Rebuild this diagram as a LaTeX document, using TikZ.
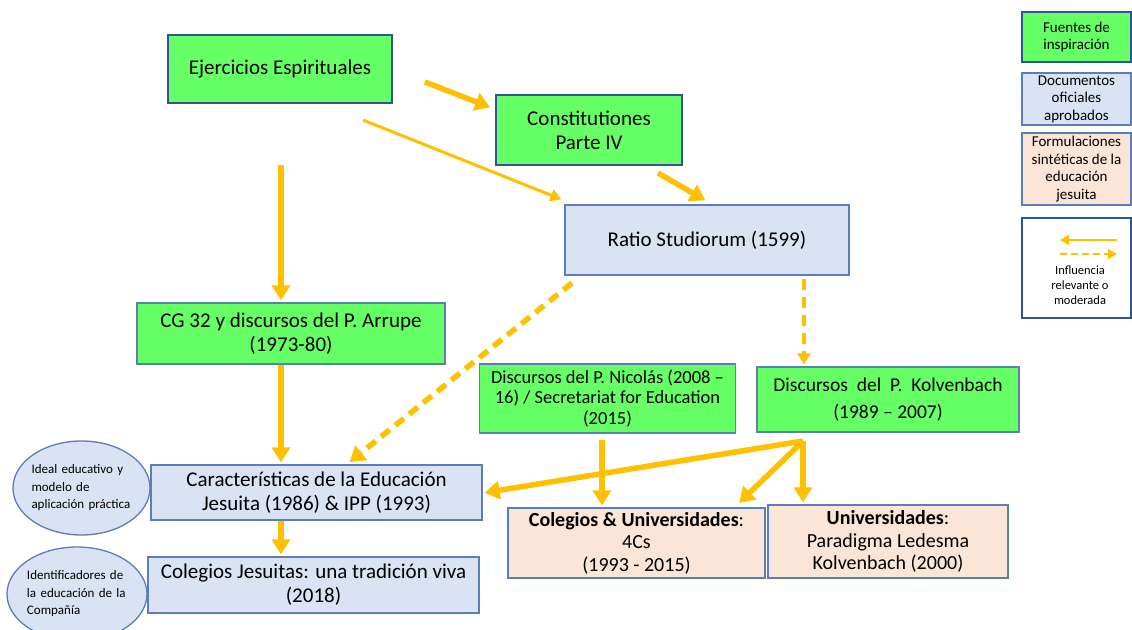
\documentclass[tikz,border=0pt]{standalone}
\usepackage{fontspec}
\setmainfont{Carlito}
\usepackage{tikz}
\usetikzlibrary{shapes.geometric, arrows.meta}
\definecolor{fuentegreen}{HTML}{66FF66}
\definecolor{oficialblue}{HTML}{DAE3F3}
\definecolor{sintesispeach}{HTML}{FBE5D6}
\definecolor{borderdark}{HTML}{2F5597}
\definecolor{borderblue}{HTML}{5B7DB8}
\definecolor{arrowgold}{HTML}{FFC000}
\tikzstyle{fuente} = [rectangle, inner sep=0pt, align=center, draw=borderblue, line width=1.3pt, fill=fuentegreen, font=\fontsize{21}{24}\selectfont]
\tikzstyle{fuentetop} = [fuente, draw=borderdark, line width=2pt]
\tikzstyle{oficial} = [rectangle, inner sep=0pt, align=center, draw=borderblue, line width=1.3pt, fill=oficialblue, font=\fontsize{21}{24}\selectfont]
\tikzstyle{sintesis} = [rectangle, inner sep=0pt, align=center, draw=borderblue, line width=1.3pt, fill=sintesispeach, font=\fontsize{20}{22.5}\selectfont]
\tikzstyle{nivel} = [ellipse, inner xsep=-8pt, inner ysep=0pt, draw=borderblue, line width=1.3pt, fill=oficialblue, text width=100pt, align=left, font=\fontsize{13}{17.5}\selectfont]
\tikzstyle{leyenda} = [rectangle, inner sep=0pt, align=center, draw=borderblue, line width=1.3pt, minimum width=109pt, font=\fontsize{15}{17.5}\selectfont]
\tikzstyle{arrow} = [draw=arrowgold, line width=5.5pt, -{Triangle[width=18pt,length=15pt]}, shorten >=2pt]
\tikzstyle{thinarrow} = [draw=arrowgold, line width=3pt, -{Triangle[width=12pt,length=11pt]}]
\tikzstyle{dasharrow} = [arrow, dash pattern=on 11pt off 7pt]
\tikzstyle{keyarrow} = [draw=arrowgold, line width=2.8pt, -{Triangle[width=10pt,length=9pt]}]

\begin{document}
\begin{tikzpicture}[x=1pt, y=-1pt]
	\useasboundingbox (0,0) rectangle (1132,629);

	\node (ejercicios) [fuentetop, minimum width=224pt, minimum height=68pt] at (280,69) {Ejercicios Espirituales};
	\node (constitutiones) [fuentetop, minimum width=186pt, minimum height=70pt] at (589,130) {Constitutiones\\Parte IV};
	\node (ratio) [oficial, minimum width=284pt, minimum height=70pt] at (707,240) {Ratio Studiorum (1599)};
	\node (cg32) [fuente, minimum width=308pt, minimum height=61pt] at (291,333.5) {CG 32 y discursos del P. Arrupe\\(1973-80)};
	\node (nicolas) [fuente, minimum width=256pt, minimum height=69pt, font=\fontsize{18.5}{20.5}\selectfont] at (607.5,398.5) {Discursos del P. Nicolás (2008 –\\16) / Secretariat for Education\\(2015)};
	\node (kolvenbach) [fuente, minimum width=262pt, minimum height=65pt, font=\fontsize{19.5}{27}\selectfont] at (888,399.5) {Discursos \ del \ P. \ Kolvenbach\\(1989 – 2007)};
	\node (caracteristicas) [oficial, minimum width=331pt, minimum height=55pt] at (316.5,492.5) {Características de la Educación\\Jesuita (1986) \& IPP (1993)};
	\node (colegios) [oficial, minimum width=331pt, minimum height=56pt] at (313.5,585) {Colegios Jesuitas: una tradición viva\\(2018)};
	\node (colegios-univ) [sintesis, minimum width=257pt, minimum height=70pt] at (636.5,543) {\textbf{Colegios \& Universidades}:\\4Cs\\(1993 - 2015)};
	\node (universidades) [sintesis, minimum width=240pt, minimum height=73pt] at (888,541.5) {\textbf{Universidades}:\\Paradigma Ledesma\\Kolvenbach (2000)};

	\node (ideal) [nivel, minimum width=137pt, minimum height=94pt] at (81.5,488) {Ideal educativo y\\modelo de\\aplicación práctica};
	\node (identificadores) [nivel, minimum width=140pt, minimum height=94pt] at (77,594) {Identificadores de\\la educación de la\\Compañía};

	\node (fuentes) [leyenda, fill=fuentegreen, draw=borderdark, minimum height=50pt] at (1076.5,37) {Fuentes de\\inspiración};
	\node (documentos) [leyenda, fill=oficialblue, minimum height=52pt] at (1076.5,99) {Documentos\\oficiales\\aprobados};
	\node (formulaciones) [leyenda, fill=sintesispeach, minimum height=72pt] at (1076.5,169) {Formulaciones\\sintéticas de la\\educación\\jesuita};
	\node (influencia) [leyenda, fill=white, draw=borderdark, minimum height=100pt] at (1076.5,268) {};
	\node (influencia-text) [align=center, font=\fontsize{12.5}{15}\selectfont] at (1080,285) {Influencia\\relevante o\\moderada};

	\coordinate (ej-out) at (425,82);
	\coordinate (ej-low) at (363,120);
	\coordinate (const-out) at (658,173);
	\coordinate (arr-top) at (281,165);
	\coordinate (ratio-out) at (572,283);
	\coordinate (ratio-down) at (804,279);
	\coordinate (nic-out) at (602,440);
	\coordinate (kol-out) at (803,441);
	\coordinate (key-a) at (1117,240);
	\coordinate (key-b) at (1060,254);

	\draw [arrow] (ej-out) -- ([xshift=-3pt,yshift=22pt]constitutiones.west);
	\draw [thinarrow] (ej-low) -- ([xshift=-3pt,yshift=5pt]ratio.north west);
	\draw [arrow] (const-out) -- ([yshift=3pt]ratio.north);
	\draw [arrow] (arr-top) -- (arr-top |- cg32.north);
	\draw [arrow] (cg32.south -| arr-top) -- (caracteristicas.north -| arr-top);
	\draw [arrow] (caracteristicas.south -| arr-top) -- (colegios.north -| arr-top);
	\draw [dasharrow] (ratio-out) -- ([xshift=31.5pt,yshift=1pt]caracteristicas.north);
	\draw [dasharrow, line width=4pt, -{Triangle[width=13pt,length=11pt]}] (ratio-down) -- (ratio-down |- kolvenbach.north);
	\draw [arrow] (nic-out) -- (nic-out |- colegios-univ.north);
	\draw [arrow] (kol-out) -- ([yshift=-0.5pt]caracteristicas.east);
	\draw [arrow] (kol-out) -- ([xshift=-28pt,yshift=3pt]colegios-univ.north east);
	\draw [arrow] (kol-out) -- (kol-out |- universidades.north);
	\draw [keyarrow] (key-a) -- (key-a -| key-b);
	\draw [keyarrow, dash pattern=on 7pt off 4pt] (key-b) -- (key-b -| key-a);
\end{tikzpicture}
\end{document}
